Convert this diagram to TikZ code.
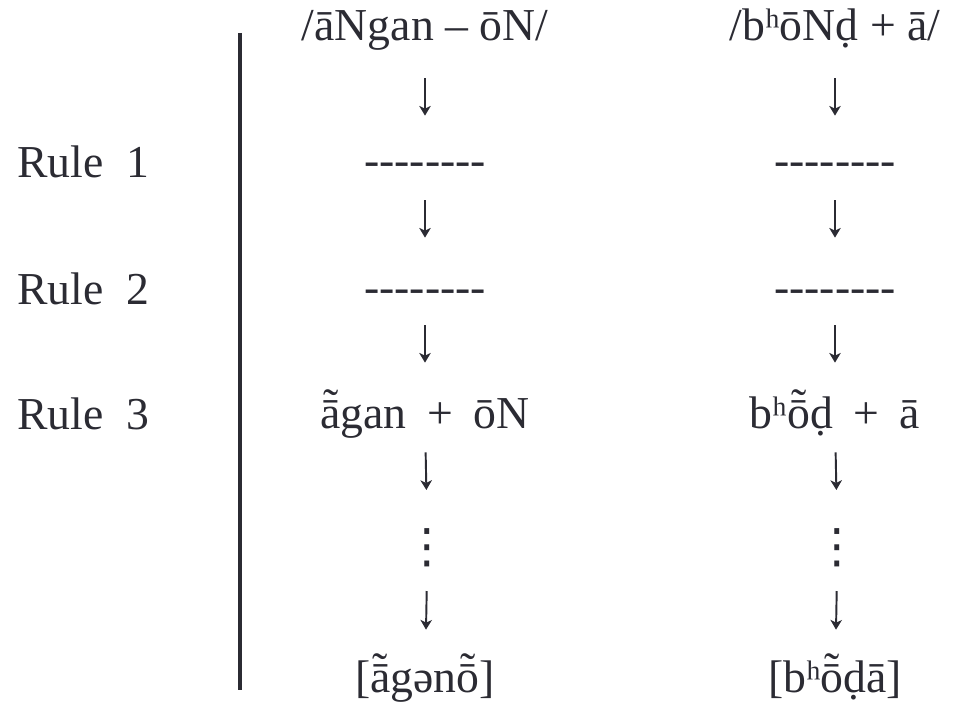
\documentclass[tikz,border=0pt]{standalone}
\usepackage{fontspec}
\setmainfont{Liberation Serif}
\newfontfamily\symfont{DejaVu Sans}
\usetikzlibrary{arrows.meta}
\definecolor{ink}{HTML}{2B2B33}

% blank stage of a derivation: a row of separate hyphens
\newcommand{\blankrow}{\mbox{-}\mbox{-}\mbox{-}\mbox{-}\mbox{-}\mbox{-}\mbox{-}\mbox{-}}
% long nasal vowel: tilde stacked over the macron
\newcommand{\nasmac}[1]{\leavevmode\hbox{\ooalign{#1\cr\hidewidth\raisebox{0.17em}{^^^^02dc}\hidewidth\cr}}}

\begin{document}
\begin{tikzpicture}[
        font=\fontsize{26}{30}\selectfont,
        >={Stealth[length=5.5pt, width=6.5pt, inset=1.5pt]},
        form/.style    ={anchor=base, inner sep=0pt, text height=0.44cm, text depth=0.12cm, text=ink},
        rulelbl/.style ={anchor=base west, inner sep=0pt, text=ink},
        dots/.style    ={inner sep=0pt, text=ink, font=\symfont\fontsize{27}{30}\selectfont},
        flow/.style    ={->, line width=1.1pt, draw=ink},
        divider/.style ={draw=ink, line width=2.8pt},
        x=1cm, y=1cm
    ]
    \useasboundingbox (0,0) rectangle (19.34,-14.18);

    % rule labels and the divider
    \node[rulelbl] (rule1) at (0.34,-3.56) {Rule\ \ 1};
    \node[rulelbl] (rule2) at (0.34,-6.08) {Rule\ \ 2};
    \node[rulelbl] (rule3) at (0.34,-8.58) {Rule\ \ 3};
    \draw[divider] (4.8,-0.66) -- (4.8,-13.8);

    % first derivation
    \node[form] (a0) at (8.5,-0.82)  {/āNgan – ōN/};
    \node[form] (a1) at (8.5,-3.52)  {\blankrow};
    \node[form] (a2) at (8.5,-6.04)  {\blankrow};
    \node[form] (a3) at (8.5,-8.56)  {\nasmac{ā}gan\hspace{0.45em}+\hspace{0.45em}ōN};
    \node[dots] (a4) at (8.55,-10.96) {⋮};
    \node[form] (a5) at (8.5,-13.84) {[\nasmac{ā}gən\nasmac{ō}]};

    % second derivation
    \node[form] (b0) at (16.7,-0.82)  {/bʰōNḍ + ā/};
    \node[form] (b1) at (16.7,-3.52)  {\blankrow};
    \node[form] (b2) at (16.7,-6.04)  {\blankrow};
    \node[form] (b3) at (16.7,-8.56)  {bʰ\nasmac{ō}ḍ\hspace{0.45em}+\hspace{0.45em}ā};
    \node[dots] (b4) at (16.75,-10.96) {⋮};
    \node[form] (b5) at (16.7,-13.84) {[bʰ\nasmac{ō}ḍā]};

    \foreach \c in {a,b} {
        \draw[flow, shorten <=0.62cm, shorten >=0.76cm] (\c0) -- (\c1);
        \draw[flow, shorten <=0.36cm, shorten >=0.84cm] (\c1) -- (\c2);
        \draw[flow, shorten <=0.34cm, shorten >=0.86cm] (\c2) -- (\c3);
        \draw[flow, shorten <=0.36cm, shorten >=0.77cm] (\c3) -- (\c4);
        \draw[flow, shorten <=0.47cm, shorten >=0.80cm] (\c4) -- (\c5);
    }
\end{tikzpicture}
\end{document}
